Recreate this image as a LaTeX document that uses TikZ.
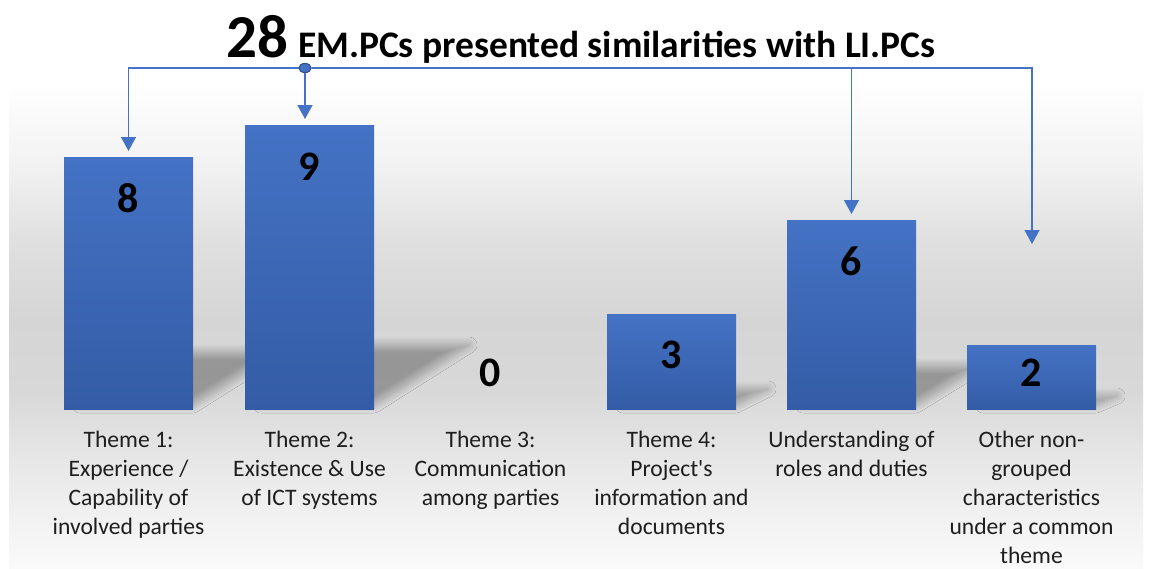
\documentclass[tikz,border=0pt]{standalone}
\usepackage{fontspec}
\setmainfont{Carlito}
\usetikzlibrary{arrows.meta,shapes.geometric,shadows.blur}

\definecolor{barblue}{RGB}{68,114,196}
\definecolor{bardark}{RGB}{52,92,166}
\definecolor{hubedge}{RGB}{47,82,143}
\definecolor{labeltext}{RGB}{30,30,30}
\definecolor{bgA}{RGB}{254,254,254}
\definecolor{bgB}{RGB}{243,243,243}
\definecolor{bgC}{RGB}{224,224,224}
\definecolor{bgD}{RGB}{213,213,213}
\definecolor{bgE}{RGB}{216,216,216}
\definecolor{bgF}{RGB}{233,233,233}
\definecolor{bgG}{RGB}{250,250,250}

% panel background: light at the top, grey band behind the bars, light again below
\pgfdeclareverticalshading{panelbg}{100bp}{%
  color(0bp)=(bgG); color(25bp)=(bgG); color(35.21bp)=(bgF);
  color(43.54bp)=(bgE); color(50.83bp)=(bgD); color(59.17bp)=(bgC);
  color(67.5bp)=(bgB); color(75bp)=(bgA); color(100bp)=(bgA)}

\tikzset{
  bar/.style={rectangle, inner sep=0pt, minimum width=129pt, anchor=south,
    top color=barblue, bottom color=bardark, draw=none},
  val/.style={inner sep=0pt, font=\fontsize{42}{42}\selectfont\bfseries, text=black},
  cat/.style={anchor=north, inner sep=0pt, align=center,
    font=\fontsize{23.6}{29}\selectfont, text=labeltext},
  conn/.style={draw=barblue, line width=1.3pt,
    -{Triangle[width=15pt,length=14pt]}},
  trunk/.style={draw=barblue, line width=2.4pt},
  hubdot/.style={ellipse, inner sep=0pt, minimum width=12pt, minimum height=9pt,
    fill=barblue, draw=hubedge, line width=1pt},
  barshadow/.style={blur shadow={shadow xshift=0pt, shadow yshift=0pt,
    shadow opacity=30, shadow blur radius=8pt, shadow blur steps=16}}
}

\begin{document}
\begin{tikzpicture}[x=1pt,y=-1pt]
\useasboundingbox (0,0) rectangle (1152,568);
\fill[white] (0,0) rectangle (1152,568);
\shade[shading=panelbg] (9,88) rectangle (1143,568);

% perspective shadows cast to the right of each bar
\path[barshadow] (80,405) -- (193,405) -- (277,352) -- (160,352) -- cycle;
\path[barshadow] (261,405) -- (374,405) -- (469,345) -- (352,345) -- cycle;
\path[barshadow] (623,405) -- (736,405) -- (768,389) -- (651,389) -- cycle;
\path[barshadow] (803,405) -- (916,405) -- (979,366) -- (862,366) -- cycle;
\path[barshadow] (983,405) -- (1096,405) -- (1117,396) -- (1000,396) -- cycle;

% bars
\node[bar, minimum height=252pt] (b1) at (128.5,410) {};
\node[bar, minimum height=284pt] (b2) at (309.5,410) {};
\node[bar, minimum height=95pt]  (b4) at (671.5,410) {};
\node[bar, minimum height=189pt] (b5) at (851.5,410) {};
\node[bar, minimum height=64pt]  (b6) at (1031.5,410) {};

% values
\node[val] (v1) at (128.5,198) {8};
\node[val] (v2) at (309.5,167) {9};
\node[val] (v3) at (490.5,373) {0};
\node[val] (v4) at (671.5,355) {3};
\node[val] (v5) at (851.5,261) {6};
\node[val] (v6) at (1031.5,373) {2};

% category labels
\node[cat] (c1) at (128.5,431) {Theme 1:\\Experience /\\Capability of\\involved parties};
\node[cat] (c2) at (309.5,431) {Theme 2:\\Existence \& Use\\of ICT systems};
\node[cat] (c3) at (490.5,431) {Theme 3:\\Communication\\among parties};
\node[cat] (c4) at (671.5,431) {Theme 4:\\Project\textquotesingle s\\information and\\documents};
\node[cat] (c5) at (851.5,431) {Understanding of\\roles and duties};
\node[cat] (c6) at (1031.5,431) {Other non-\\grouped\\characteristics\\under a common\\theme};

% title
\node[anchor=base west, inner sep=0pt] (title) at (226,57)
  {{\fontsize{61}{61}\selectfont\bfseries 28}\hspace{10pt}%
   {\fontsize{37.5}{40}\selectfont\bfseries EM.PCs presented similarities with LI.PCs}};

% distribution connectors from the hub
\coordinate (t1) at (128.5,151);
\coordinate (t2) at (305,119);
\coordinate (t5) at (851.5,214);
\coordinate (t6) at (1032,244);
\coordinate (j5) at (851.5,68);

\node[hubdot] (hub) at (305,68) {};
\draw[conn] (hub.west) -| (t1);
\draw[conn] (hub.south) -- (t2);
\draw[conn] (hub.east) -| (t6);
\draw[trunk] (hub.east) -- (j5);
\draw[conn] (j5) -- (t5);
\node[hubdot] (hubtop) at (hub) {};
\end{tikzpicture}
\end{document}
